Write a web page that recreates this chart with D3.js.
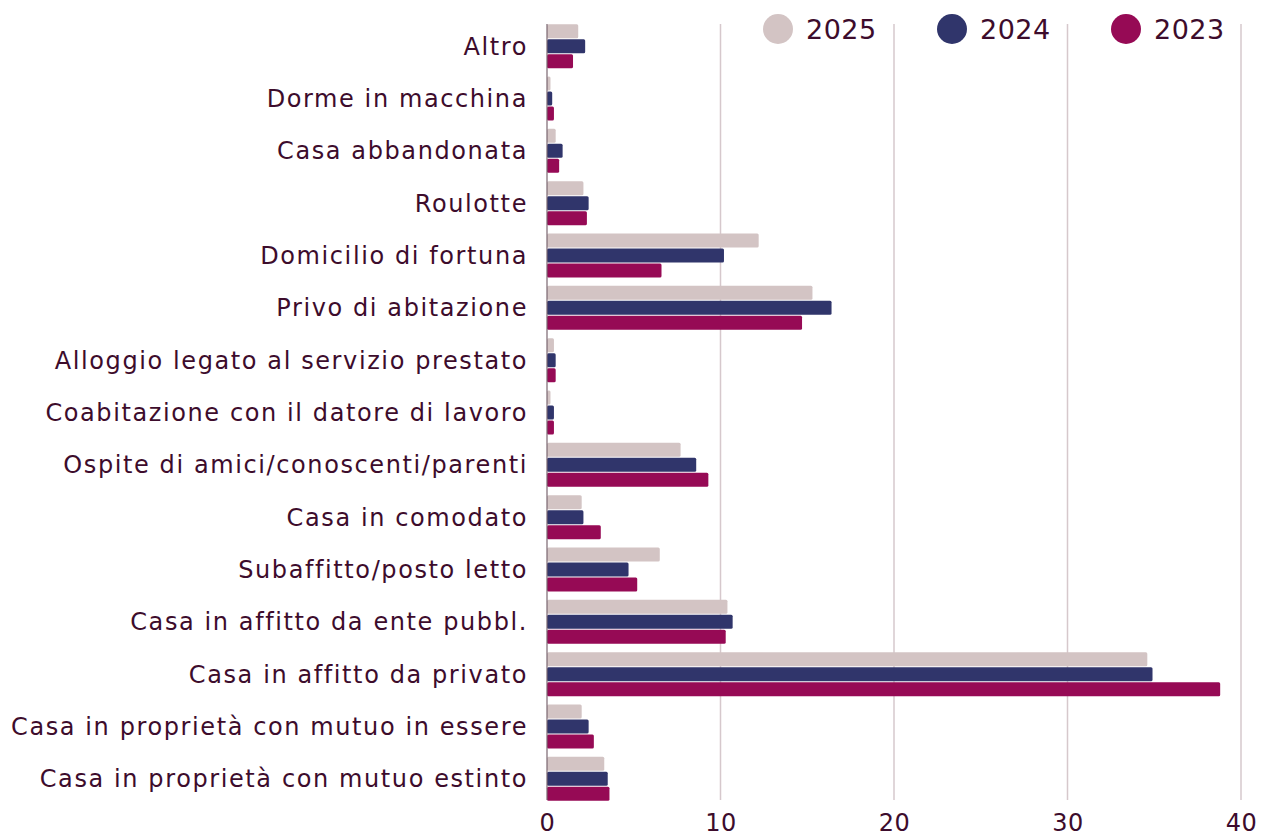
<!DOCTYPE html>
<html>
<head>
<meta charset="utf-8">
<script src="https://cdn.jsdelivr.net/npm/d3@7"></script>
<style>
  body { margin: 0; background: #fff; }
  text { font-family: "DejaVu Sans", sans-serif; fill: #3d0c2c; }
</style>
</head>
<body>
<div id="chart"></div>
<script>
// categories top to bottom
const categories = [
  "Altro",
  "Dorme in macchina",
  "Casa abbandonata",
  "Roulotte",
  "Domicilio di fortuna",
  "Privo di abitazione",
  "Alloggio legato al servizio prestato",
  "Coabitazione con il datore di lavoro",
  "Ospite di amici/conoscenti/parenti",
  "Casa in comodato",
  "Subaffitto/posto letto",
  "Casa in affitto da ente pubbl.",
  "Casa in affitto da privato",
  "Casa in proprietà con mutuo in essere",
  "Casa in proprietà con mutuo estinto"
];
const years = ["2025", "2024", "2023"];
const v2025 = [1.8, 0.2, 0.5, 2.1, 12.2, 15.3, 0.4, 0.2, 7.7, 2.0, 6.5, 10.4, 34.6, 2.0, 3.3];
const v2024 = [2.2, 0.3, 0.9, 2.4, 10.2, 16.4, 0.5, 0.4, 8.6, 2.1, 4.7, 10.7, 34.9, 2.4, 3.5];
const v2023 = [1.5, 0.4, 0.7, 2.3, 6.6, 14.7, 0.5, 0.4, 9.3, 3.1, 5.2, 10.3, 38.8, 2.7, 3.6];
const xTicks = [0, 10, 20, 30, 40];
const colors = ["#d3c4c4", "#30356b", "#960a55"];

const width = 1261, height = 837;
const series = [v2025, v2024, v2023];

const svg = d3.select("#chart").append("svg").attr("width", width).attr("height", height);

const x = d3.scaleLinear().domain([0, 40]).range([547, 1241]);
const y = d3.scaleBand().domain(categories).range([20, 805]).paddingInner(0.16).paddingOuter(0.08);
const y1 = d3.scaleBand().domain(years).range([0, y.bandwidth()]).paddingInner(0.07);
const color = d3.scaleOrdinal().domain(years).range(colors);

// gridlines
svg.append("g").selectAll("line")
  .data(xTicks.slice(1))
  .enter().append("line")
  .attr("x1", d => x(d)).attr("x2", d => x(d))
  .attr("y1", 24).attr("y2", 800)
  .attr("stroke", "#d6c8cc").attr("stroke-width", 1.5);

// bars
const groups = svg.append("g").selectAll("g")
  .data(categories)
  .enter().append("g")
  .attr("transform", d => "translate(0," + y(d) + ")");

groups.selectAll("rect")
  .data((d, i) => years.map((yr, k) => ({ yr: yr, v: series[k][i] })))
  .enter().append("rect")
  .attr("x", x(0))
  .attr("y", d => y1(d.yr))
  .attr("width", d => x(d.v) - x(0))
  .attr("height", y1.bandwidth())
  .attr("rx", 1.5)
  .attr("fill", d => color(d.yr));

// zero line
svg.append("line")
  .attr("x1", x(0)).attr("x2", x(0)).attr("y1", 24).attr("y2", 800)
  .attr("stroke", "#7a6670").attr("stroke-width", 1.2);

// category labels
svg.append("g").selectAll("text")
  .data(categories)
  .enter().append("text")
  .attr("x", 528)
  .attr("y", d => y(d) + y.bandwidth() / 2)
  .attr("dy", "0.36em")
  .attr("text-anchor", "end")
  .style("font-size", "24px")
  .style("letter-spacing", "1.6px")
  .text(d => d);

// x axis
const xAxis = svg.append("g")
  .attr("transform", "translate(0,812)")
  .call(d3.axisBottom(x).tickValues(xTicks).tickSize(0).tickPadding(0));
xAxis.select(".domain").remove();
xAxis.selectAll("text")
  .style("font-size", "24px")
  .style("font-family", "\"DejaVu Sans\", sans-serif")
  .style("letter-spacing", "0.5px")
  .attr("fill", "#3d0c2c")
  .attr("y", 19)
  .attr("dy", 0);

// legend
const legendX = [778, 952, 1126];
const legend = svg.append("g").selectAll("g")
  .data(years)
  .enter().append("g")
  .attr("transform", (d, i) => "translate(" + legendX[i] + ",29)");
legend.append("rect")
  .attr("x", -18).attr("y", -18).attr("width", 110).attr("height", 36)
  .attr("fill", "#fff");
legend.append("circle").attr("r", 15).attr("fill", d => color(d));
legend.append("text")
  .attr("x", 28).attr("dy", "0.36em")
  .style("font-size", "27px")
  .style("letter-spacing", "0.5px")
  .text(d => d);
</script>
</body>
</html>
